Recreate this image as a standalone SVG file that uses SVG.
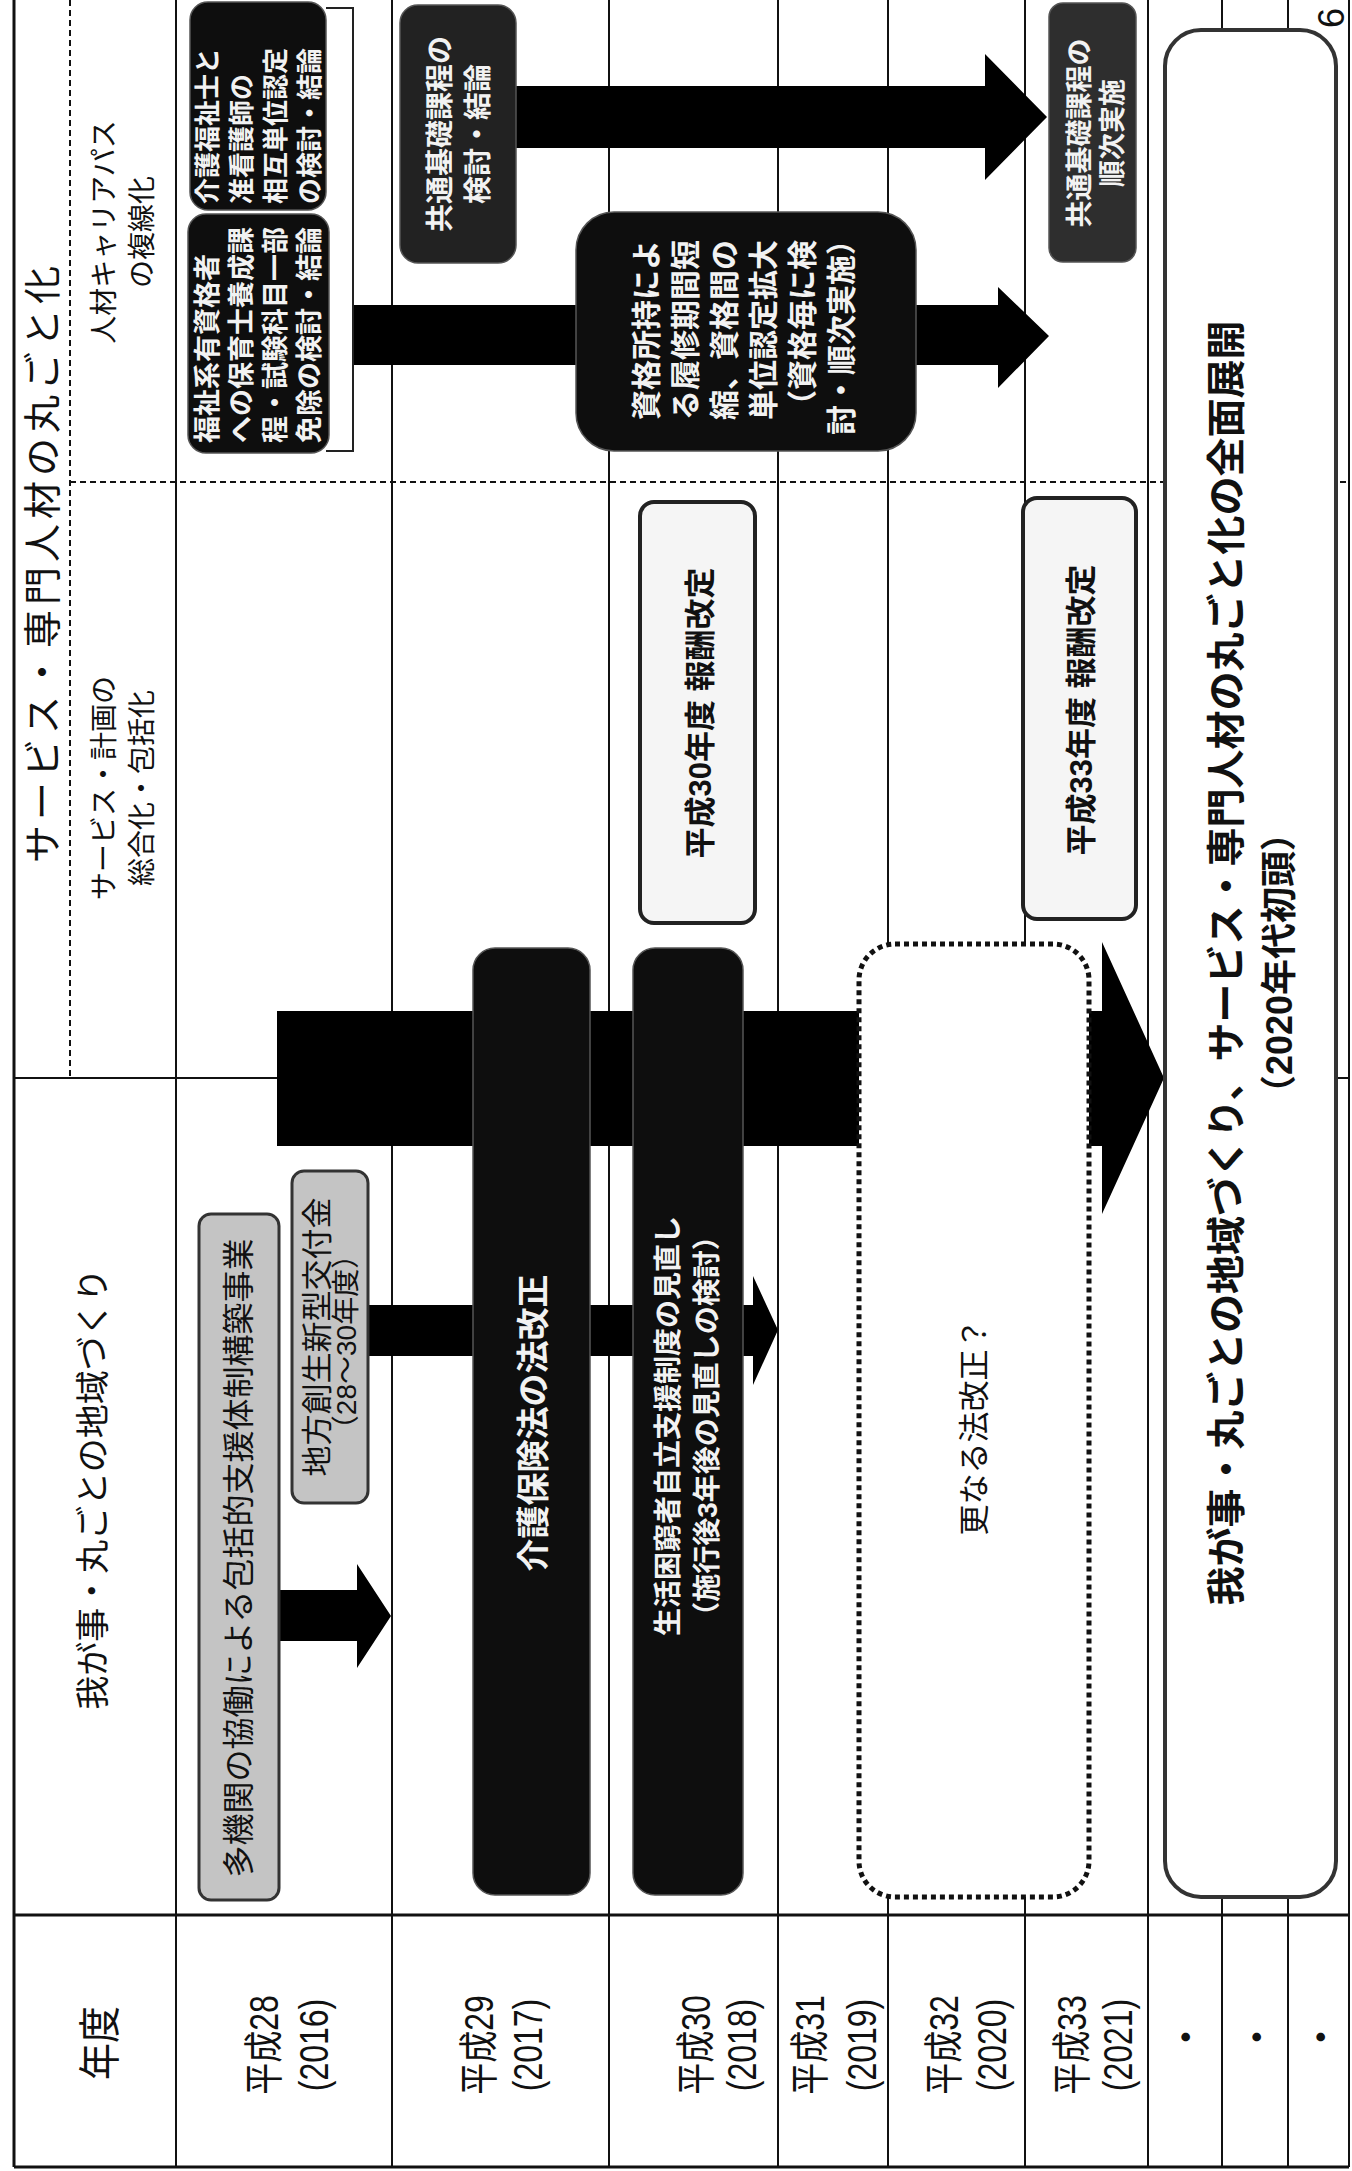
<svg xmlns="http://www.w3.org/2000/svg" width="1352" height="2171" viewBox="0 0 1352 2171">
<style>
text{font-family:"Liberation Sans","Noto Sans CJK JP",sans-serif;fill:#111;dominant-baseline:central;text-anchor:middle}
.w{fill:#f2f2f2;font-weight:bold}
.b{font-weight:bold}
.s{text-anchor:start}
.gl{stroke:#111;stroke-width:2;fill:none}
.dl{stroke:#111;stroke-width:2;stroke-dasharray:6 4;fill:none}
.gray{fill:#c4c4c4;stroke:#333;stroke-width:3}
.blk{fill:#0e0e0e;stroke:#555;stroke-width:1.5}
.lt{fill:#f5f5f5;stroke:#222;stroke-width:4}
.dot{fill:#fff;stroke:#111;stroke-width:5;stroke-dasharray:5 4}
.big{fill:#fff;stroke:#333;stroke-width:4}
</style>
<rect width="1352" height="2171" fill="#fff"/>
<g id="grid">
<line class="gl" x1="14" y1="0" x2="14" y2="2167" style="stroke-width:3"/>
<line class="gl" x1="176" y1="0" x2="176" y2="2167"/>
<line class="gl" x1="392" y1="0" x2="392" y2="2167"/>
<line class="gl" x1="609" y1="0" x2="609" y2="2167"/>
<line class="gl" x1="778" y1="0" x2="778" y2="2167"/>
<line class="gl" x1="888" y1="0" x2="888" y2="2167"/>
<line class="gl" x1="1025" y1="0" x2="1025" y2="2167"/>
<line class="gl" x1="1148" y1="0" x2="1148" y2="2167"/>
<line class="gl" x1="1222" y1="0" x2="1222" y2="2167"/>
<line class="gl" x1="1288" y1="0" x2="1288" y2="2167"/>
<line class="gl" x1="1349" y1="0" x2="1349" y2="2167"/>
<line class="gl" x1="14" y1="2167" x2="1349" y2="2167" style="stroke-width:3"/>
<line class="gl" x1="14" y1="1915" x2="1349" y2="1915" style="stroke-width:3"/>
<line class="gl" x1="14" y1="1078" x2="1349" y2="1078"/>
<line class="dl" x1="70" y1="0" x2="70" y2="1078"/>
<line class="dl" x1="70" y1="482" x2="1349" y2="482"/>
</g>
<g id="headers">
<text transform="translate(43,562) rotate(-90)" font-size="38" letter-spacing="5">サービス・専門人材の丸ごと化</text>
<text transform="translate(104,232) rotate(-90)" font-size="28">人材キャリアパス</text>
<text transform="translate(142,232) rotate(-90)" font-size="28">の複線化</text>
<text transform="translate(104,788) rotate(-90)" font-size="28">サービス・計画の</text>
<text transform="translate(142,788) rotate(-90)" font-size="28">総合化・包括化</text>
<text transform="translate(93,1489) rotate(-90)" font-size="34">我が事・丸ごとの地域づくり</text>
<text transform="translate(100,2043) rotate(-90) scale(0.88,1)" font-size="42">年度</text>
<text transform="translate(264,2045) rotate(-90) scale(0.8,1)" font-size="40">平成28</text>
<text transform="translate(314,2045) rotate(-90) scale(0.8,1)" font-size="40">(2016)</text>
<text transform="translate(479,2045) rotate(-90) scale(0.8,1)" font-size="40">平成29</text>
<text transform="translate(528,2045) rotate(-90) scale(0.8,1)" font-size="40">(2017)</text>
<text transform="translate(696,2045) rotate(-90) scale(0.8,1)" font-size="40">平成30</text>
<text transform="translate(742,2045) rotate(-90) scale(0.8,1)" font-size="40">(2018)</text>
<text transform="translate(810,2045) rotate(-90) scale(0.8,1)" font-size="40">平成31</text>
<text transform="translate(862,2045) rotate(-90) scale(0.8,1)" font-size="40">(2019)</text>
<text transform="translate(944,2045) rotate(-90) scale(0.8,1)" font-size="40">平成32</text>
<text transform="translate(992,2045) rotate(-90) scale(0.8,1)" font-size="40">(2020)</text>
<text transform="translate(1072,2045) rotate(-90) scale(0.8,1)" font-size="40">平成33</text>
<text transform="translate(1118,2045) rotate(-90) scale(0.8,1)" font-size="40">(2021)</text>
<text transform="translate(1187,2037) rotate(-90)" font-size="34" class="b">・</text>
<text transform="translate(1258,2037) rotate(-90)" font-size="34" class="b">・</text>
<text transform="translate(1322,2037) rotate(-90)" font-size="34" class="b">・</text>
<text transform="translate(1331,18) rotate(-90)" font-size="36">6</text>
</g>
<g id="connectors" fill="#000">
<polygon points="277,1011 1102,1011 1102,942 1164,1078 1102,1214 1102,1146 277,1146"/>
<polygon points="279,1590 357,1590 357,1564 391,1616 357,1668 357,1641 279,1641"/>
<polygon points="368,1305 753,1305 753,1276 778,1330 753,1385 753,1356 368,1356"/>
<polygon points="516,86 985,86 985,54 1047,117 985,180 985,148 516,148"/>
<polygon points="353,305 998,305 998,287 1049,336 998,388 998,365 353,365"/>
<path d="M326 8 H353 V451 H326" fill="none" stroke="#222" stroke-width="2"/>
</g>
<g id="node-kaigo-sogo">
<rect class="blk" x="190" y="2" width="136" height="208" rx="18"/>
<text class="w s" transform="translate(208,204) rotate(-90)" font-size="26">介護福祉士と</text>
<text class="w s" transform="translate(242,204) rotate(-90)" font-size="26">准看護師の</text>
<text class="w s" transform="translate(276,204) rotate(-90)" font-size="26">相互単位認定</text>
<text class="w s" transform="translate(310,204) rotate(-90)" font-size="26">の検討・結論</text>
</g>
<g id="node-hoiku">
<rect class="blk" x="188" y="214" width="141" height="239" rx="18"/>
<text class="w s" transform="translate(208,443) rotate(-90)" font-size="27">福祉系有資格者</text>
<text class="w s" transform="translate(242,443) rotate(-90)" font-size="27">への保育士養成課</text>
<text class="w s" transform="translate(276,443) rotate(-90)" font-size="27">程・試験科目一部</text>
<text class="w s" transform="translate(310,443) rotate(-90)" font-size="27">免除の検討・結論</text>
</g>
<g id="node-kyotsu-kento">
<rect class="blk" x="400" y="5" width="116" height="258" rx="18" style="fill:#222"/>
<text class="w" transform="translate(440,134) rotate(-90)" font-size="28">共通基礎課程の</text>
<text class="w" transform="translate(478,134) rotate(-90)" font-size="28">検討・結論</text>
</g>
<g id="node-shikaku">
<rect class="blk" x="576" y="212" width="340" height="239" rx="38"/>
<text class="w" transform="translate(646,330) rotate(-90)" font-size="30">資格所持によ</text>
<text class="w" transform="translate(685,330) rotate(-90)" font-size="30">る履修期間短</text>
<text class="w" transform="translate(724,330) rotate(-90)" font-size="30">縮、資格間の</text>
<text class="w" transform="translate(763,330) rotate(-90)" font-size="30">単位認定拡大</text>
<text class="w" transform="translate(802,330) rotate(-90)" font-size="30">（資格毎に検</text>
<text class="w" transform="translate(841,330) rotate(-90)" font-size="30">討・順次実施）</text>
</g>
<g id="node-kyotsu-jisshi">
<rect class="blk" x="1049" y="3" width="87" height="259" rx="14" style="fill:#2e2e2e"/>
<text class="w" transform="translate(1080,133) rotate(-90)" font-size="27">共通基礎課程の</text>
<text class="w" transform="translate(1113,133) rotate(-90)" font-size="27">順次実施</text>
</g>
<g id="node-hoshu30">
<rect class="lt" x="640" y="502" width="115" height="421" rx="14"/>
<text class="b" transform="translate(700,713) rotate(-90)" font-size="31">平成30年度  報酬改定</text>
</g>
<g id="node-hoshu33">
<rect class="lt" x="1023" y="498" width="113" height="421" rx="14"/>
<text class="b" transform="translate(1081,710) rotate(-90)" font-size="31">平成33年度  報酬改定</text>
</g>
<g id="node-takikan">
<rect class="gray" x="199" y="1214" width="80" height="686" rx="12"/>
<text transform="translate(239,1558) rotate(-90)" font-size="32">多機関の協働による包括的支援体制構築事業</text>
</g>
<g id="node-chiho">
<rect class="gray" x="292" y="1171" width="76" height="332" rx="12"/>
<text transform="translate(317,1337) rotate(-90)" font-size="31">地方創生新型交付金</text>
<text transform="translate(346,1342) rotate(-90)" font-size="28">（28～30年度）</text>
</g>
<g id="node-kaigohoken">
<rect class="blk" x="473" y="948" width="117" height="947" rx="22"/>
<text class="w" transform="translate(533,1423) rotate(-90)" font-size="33">介護保険法の法改正</text>
</g>
<g id="node-seikatsu">
<rect class="blk" x="633" y="948" width="110" height="947" rx="22"/>
<text class="w" transform="translate(668,1426) rotate(-90)" font-size="28">生活困窮者自立支援制度の見直し</text>
<text class="w" transform="translate(707,1426) rotate(-90)" font-size="28">（施行後3年後の見直しの検討）</text>
</g>
<g id="node-sara">
<rect class="dot" x="859" y="944" width="230" height="953" rx="36"/>
<text transform="translate(974,1427) rotate(-90)" font-size="31">更なる法改正？</text>
</g>
<g id="node-zenmen">
<rect class="big" x="1165" y="30" width="171" height="1867" rx="36"/>
<text class="b" transform="translate(1226,963) rotate(-90)" font-size="39">我が事・丸ごとの地域づくり、サービス・専門人材の丸ごと化の全面展開</text>
<text class="b" transform="translate(1279,963) rotate(-90)" font-size="36">（2020年代初頭）</text>
</g>
</svg>
